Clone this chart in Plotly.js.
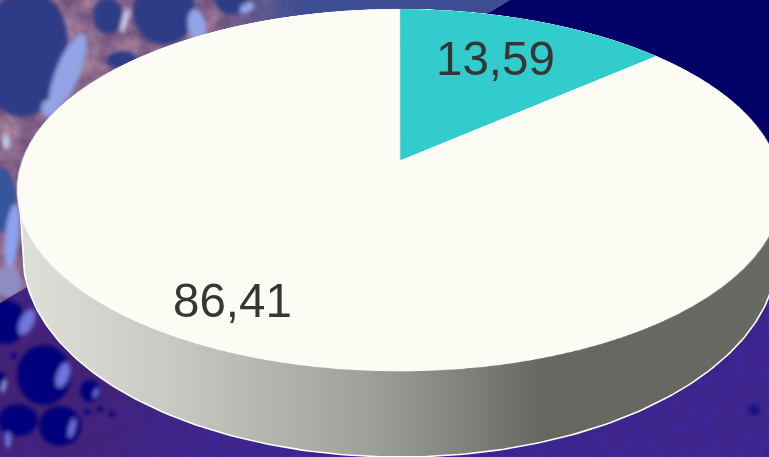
<!DOCTYPE html>
<html><head><meta charset="utf-8">
<script src="https://cdn.plot.ly/plotly-3.0.1.min.js"></script>
<style>
html,body{margin:0;padding:0;background:#000066;overflow:hidden}
#stage{position:absolute;left:0;top:0;width:769px;height:457px;overflow:hidden}
#base,#labels{position:absolute;left:0;top:0;width:769px;height:457px}
#pie{position:absolute;left:0;top:0;width:800px;height:800px;transform-origin:0 0}
</style></head>
<body>
<div id="stage"><div id="base"></div><div id="pie"></div><div id="labels"></div></div>
<script>
// ---- chart data ----
const categories = ['Sí', 'No'];
const values = [13.59, 86.41];
const sliceColors = ['#33CCCC', '#FCFCF5'];
const wallStops = [[0, '#DEDFD9'], [0.2, '#C8C9C3'], [0.45, '#A0A19B'], [0.6, '#7D7E78'], [0.69, '#666761'], [1, '#686963']];
const labelFontSize = 47.5;
const labelColor = '#363636';

// ---- photographic backdrop, drawn as a vector image ----
function blob(x, y, rx, ry, fill, rot) {
  return `<ellipse cx="${x}" cy="${y}" rx="${rx}" ry="${ry}" fill="${fill}" transform="rotate(${rot || 0} ${x} ${y})"/>`;
}
const darkA = '#2F3A86', lightA = '#93A4E6';
const darkB = '#02007C', lightB = '#6F76DC';
const upperPhoto = [
  blob(22, 55, 42, 62, darkA), blob(38, 45, 30, 50, darkA), blob(68, 72, 12, 41, lightA, 22), blob(50, 108, 9, 9, lightA),
  blob(108, 16, 15, 18, darkA), blob(125, 20, 3, 13, '#C8D0F0', 15),
  blob(164, 10, 31, 35, darkA), blob(197, 26, 9, 17, lightA, -10),
  blob(232, 2, 17, 12, darkA), blob(247, 8, 8, 5, lightA, -30),
  blob(122, 60, 15, 9, darkA), blob(6, 142, 4, 8, '#BFC7EA'),
  blob(2, 200, 14, 32, '#36549C'), blob(12, 236, 7, 32, '#8DA2F0', 6),
  blob(8, 282, 14, 16, '#8F8DC0')
].join('');
const lowerPhoto = [
  blob(6, 322, 20, 22, darkB), blob(27, 322, 7, 14, lightB, 25),
  blob(44, 375, 27, 30, darkB), blob(63, 375, 6, 13, lightB, 20),
  blob(90, 391, 10, 11, darkB), blob(96, 393, 2, 5, lightB, 25),
  blob(60, 426, 21, 20, darkB), blob(72, 428, 3, 10, lightB, 15),
  blob(0, 382, 7, 10, darkB), blob(4, 386, 2, 7, '#9AA0E8', 15),
  blob(18, 420, 20, 16, darkB), blob(8, 440, 3, 8, lightB),
  blob(754, 410, 5, 5, '#10087C'),
  blob(87, 412, 3, 3, darkB), blob(100, 409, 3, 3, darkB), blob(112, 414, 3, 3, darkB),
  blob(14, 356, 3, 3, darkB), blob(30, 356, 3, 3, darkB), blob(90, 360, 3, 3, darkB)
].join('');
const backdropSvg = `<svg xmlns="http://www.w3.org/2000/svg" width="769" height="457" viewBox="0 0 769 457">
<defs>
<filter id="soft"><feGaussianBlur stdDeviation="2"/></filter>
<filter id="grain" x="0" y="0" width="100%" height="100%"><feTurbulence type="fractalNoise" baseFrequency="0.09" numOctaves="3" seed="7"/><feColorMatrix values="0 0 0 0 0.05  0 0 0 0 0.02  0 0 0 0 0.35  1.6 0 0 0 -0.55"/></filter>
<filter id="web" x="0" y="0" width="100%" height="100%"><feTurbulence type="fractalNoise" baseFrequency="0.05" numOctaves="3" seed="3"/><feColorMatrix values="0 0 0 0 0.42  0 0 0 0 0.24  0 0 0 0 0.36  1.8 0 0 0 -0.6"/></filter>
<radialGradient id="lowWeb" gradientUnits="userSpaceOnUse" cx="40" cy="380" r="190"><stop offset="0" stop-color="#46206A" stop-opacity="0.8"/><stop offset="1" stop-color="#46206A" stop-opacity="0"/></radialGradient>
<linearGradient id="fade" gradientUnits="userSpaceOnUse" x1="210" y1="0" x2="300" y2="0"><stop offset="0" stop-color="#3E4E92" stop-opacity="0"/><stop offset="1" stop-color="#3E4E92"/></linearGradient>
<clipPath id="upper"><polygon points="0,0 510,0 0,303"/></clipPath>
<clipPath id="lower"><polygon points="0,303 510,0 769,0 769,457 0,457"/></clipPath>
</defs>
<rect width="769" height="457" fill="#000066"/>
<g clip-path="url(#lower)">
<rect y="200" width="769" height="257" fill="#3C2488"/>
<rect y="200" width="769" height="257" filter="url(#grain)"/>
<rect y="200" width="769" height="257" fill="url(#lowWeb)"/>
<rect x="0" y="0" width="769" height="130" fill="#000066"/>
<g filter="url(#soft)">${lowerPhoto}</g>
</g>
<g clip-path="url(#upper)">
<rect width="769" height="457" fill="#75557E"/>
<rect width="769" height="457" filter="url(#web)"/>
<rect x="210" width="340" height="30" fill="url(#fade)"/>
<g filter="url(#soft)">${upperPhoto}</g>
</g>
</svg>`;
const backdrop = 'data:image/svg+xml;charset=utf-8,' + encodeURIComponent(backdropSvg);

// ---- geometry of the tilted disc ----
const cx = 399.3, rimTop = 9, rimBottom = 371, apexY = 161, sideRx = 377;
// perspective constant that sends the disc's far edge, centre and near edge to the three heights above
const persp = (rimTop + rimBottom - 2 * apexY) / (rimBottom - rimTop);
const tiltA = rimTop * (1 + persp) - apexY;

const pieSize = 800, pieR = 360, pieC = 400;
(function placePie() {
  const c = persp, a = tiltA;
  const m11 = sideRx / pieR;
  const m21 = -cx * c / pieR;
  const m41 = cx + cx * c * pieC / pieR - sideRx * pieC / pieR;
  const m22 = -a / pieR;
  const m42 = apexY + a * pieC / pieR;
  const m24 = -c / pieR;
  const m44 = 1 + c * pieC / pieR;
  document.getElementById('pie').style.transform =
    `matrix3d(${m11},0,0,0, ${m21},${m22},0,${m24}, 0,0,1,0, ${m41},${m42},0,${m44})`;
})();

// ---- side wall of the cylinder ----
const topRim = {x: 400, y: 190, rx: 380, ry: 179};
const footRim = {x: 400, y: 255, rx: 377, ry: 202};
const wallX = [], wallY = [], footX = [], footY = [];
for (let d = 180; d >= 0; d -= 1) {
  const t = d * Math.PI / 180;
  footX.push(footRim.x + footRim.rx * Math.cos(t));
  footY.push(footRim.y + footRim.ry * Math.sin(t));
}
wallX.push(...footX); wallY.push(...footY);
for (let d = 0; d <= 180; d += 1) {
  const t = d * Math.PI / 180;
  wallX.push(topRim.x + topRim.rx * Math.cos(t));
  wallY.push(topRim.y + topRim.ry * Math.sin(t));
}
const edgeX = [topRim.x - topRim.rx, ...footX];
const edgeY = [topRim.y + 15, ...footY];

const cfg = {staticPlot: true, displayModeBar: false};
const hidden = {visible: false, fixedrange: true};

Plotly.newPlot('base', [
  {type: 'scatter', mode: 'none', x: wallX, y: wallY, fill: 'toself', hoverinfo: 'skip',
   fillgradient: {type: 'horizontal', colorscale: wallStops, start: 23, stop: 777}},
  {type: 'scatter', mode: 'lines', x: edgeX, y: edgeY, hoverinfo: 'skip',
   line: {color: '#FFFFFF', width: 1.6}}
], {
  width: 769, height: 457, margin: {l: 0, r: 0, t: 0, b: 0}, showlegend: false,
  paper_bgcolor: 'rgba(0,0,0,0)', plot_bgcolor: 'rgba(0,0,0,0)',
  xaxis: Object.assign({range: [0, 769]}, hidden),
  yaxis: Object.assign({range: [457, 0]}, hidden),
  images: [{source: backdrop, xref: 'paper', yref: 'paper', x: 0, y: 1, sizex: 1, sizey: 1,
            xanchor: 'left', yanchor: 'top', sizing: 'stretch', layer: 'below'}]
}, cfg);

Plotly.newPlot('pie', [{
  type: 'pie', labels: categories, values: values, sort: false, direction: 'clockwise', rotation: 0,
  textinfo: 'none', hoverinfo: 'skip',
  marker: {colors: sliceColors, line: {color: '#FFFFFF', width: 1}},
  domain: {x: [0.05, 0.95], y: [0.05, 0.95]}
}], {
  width: pieSize, height: pieSize, margin: {l: 0, r: 0, t: 0, b: 0}, showlegend: false,
  paper_bgcolor: 'rgba(0,0,0,0)'
}, cfg);

const labelAt = [[495.5, 58.5], [232, 300.5]];
Plotly.newPlot('labels', [], {
  width: 769, height: 457, margin: {l: 0, r: 0, t: 0, b: 0}, showlegend: false,
  paper_bgcolor: 'rgba(0,0,0,0)', plot_bgcolor: 'rgba(0,0,0,0)',
  xaxis: {visible: false}, yaxis: {visible: false},
  annotations: values.map((v, i) => ({
    text: String(v).replace('.', ','), showarrow: false,
    xref: 'paper', yref: 'paper', x: labelAt[i][0] / 769, y: 1 - labelAt[i][1] / 457,
    xanchor: 'center', yanchor: 'middle',
    font: {family: '"Liberation Sans", Arial, sans-serif', size: labelFontSize, color: labelColor}
  }))
}, cfg);
</script>
</body></html>
